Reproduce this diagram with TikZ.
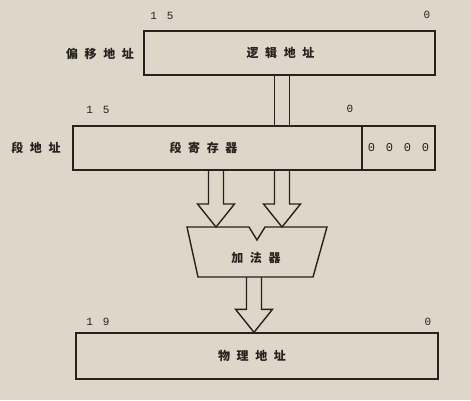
\documentclass[tikz,border=0pt]{standalone}
\usepackage{fontspec}
\newfontfamily\cjk[LetterSpace=55]{Noto Sans CJK SC}
\newfontfamily\cifras[LetterSpace=90]{Liberation Mono}
\usetikzlibrary{calc}
\definecolor{papel}{RGB}{222,214,200}
\definecolor{tinta}{RGB}{38,34,30}

\newcommand{\flechahueca}[2]{%
  \draw ($(#1)+(-7.5,0)$) -- ($(#2)+(-7.5,-23)$) -- ($(#2)+(-18.5,-23)$) -- (#2)
    -- ($(#2)+(18.5,-23)$) -- ($(#2)+(7.5,-23)$) -- ($(#1)+(7.5,0)$);}

\begin{document}
\begin{tikzpicture}[x=1pt, y=-1pt, color=tinta, line width=1.4pt,
    caja/.style={draw, minimum height=44pt, inner sep=0pt, font=\cjk\bfseries\fontsize{12}{13}\selectfont},
    texto/.style={inner sep=0pt, font=\cjk\bfseries\fontsize{12}{13}\selectfont},
    bit/.style={inner sep=0pt, font=\cifras\fontsize{11}{12}\selectfont}]
            \fill[papel] (0,0) rectangle (471,400);

            % Registros
            \node[caja, minimum width=291] (logico) at (289.5,53) {\hspace*{-18pt}逻辑地址};
            \node[caja, minimum width=289] (segreg) at (217.5,148) {\hspace*{-28pt}段寄存器};
            \node[caja, minimum width=73] (ceros) at (398.5,148) {\cifras\mdseries 0000};
            \node[caja, minimum width=362, minimum height=46] (fisico) at (257,356) {\hspace*{-10pt}物理地址};

            % Rotulos
            \node[texto] (offset) at (100,54) {偏移地址};
            \node[texto] (segdir) at (36,148) {段地址};
            \node[bit] (l15) at (162,16) {15};
            \node[bit] (l0) at (427,15) {0};
            \node[bit] (s15) at (98,110) {15};
            \node[bit] (s0) at (350,109) {0};
            \node[bit] (f19) at (98,322) {19};
            \node[bit] (f0) at (428,322) {0};

            % Sumador
            \node[texto] (sumador) at (256,258) {加法器};
            \draw (187,227) -- (249,227) -- (257,240) -- (265,227) -- (327,227)
              -- (313,277) -- (198,277) -- cycle;

            % Puntos de union
            \coordinate (s1) at (216,227);
            \coordinate (s2) at (282,227);
            \coordinate (s3) at (254,277);
            \coordinate (e1) at (s1 |- segreg.south);
            \coordinate (e2) at (s2 |- segreg.south);
            \coordinate (e3) at (s3 |- fisico.north);
            \coordinate (b2) at (s2 |- logico.south);
            \coordinate (t2) at (s2 |- segreg.north);

            % Flechas
            \draw ($(b2)+(-7.5,0)$) -- ($(t2)+(-7.5,0)$);
            \draw ($(b2)+(7.5,0)$) -- ($(t2)+(7.5,0)$);
            \flechahueca{e1}{s1}
            \flechahueca{e2}{s2}
            \flechahueca{s3}{e3}
          \end{tikzpicture}
\end{document}
